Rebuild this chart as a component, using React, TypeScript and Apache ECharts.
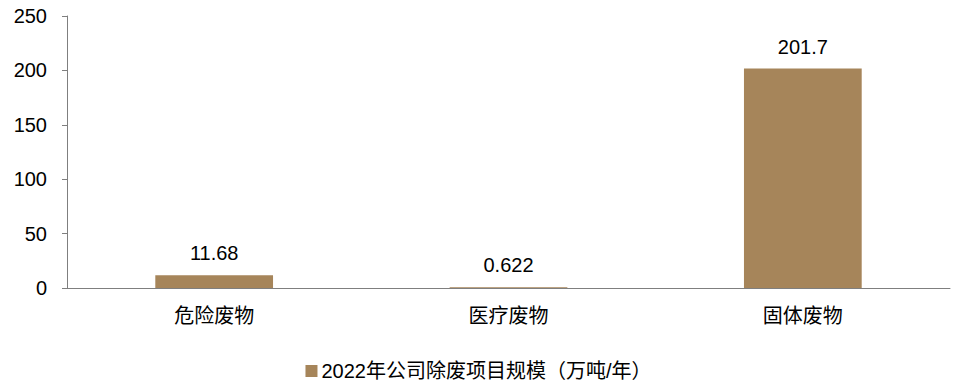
import React, { useEffect, useRef } from "react";
import * as echarts from "echarts";

const categories = ["危险废物", "医疗废物", "固体废物"];
const values = [11.68, 0.622, 201.7];
const valueLabels = ["11.68", "0.622", "201.7"];
const seriesName = "2022年公司除废项目规模（万吨/年）";
const yTicks = { min: 0, max: 250, interval: 50 };

export default function App() {
  const ref = useRef<HTMLDivElement>(null);

  useEffect(() => {
    if (!ref.current) return;
    const chart = echarts.init(ref.current, undefined, { renderer: "svg" });
    const axisColor = "#7f7f7f";
    const latin = "'Liberation Sans', Arial, 'Noto Sans CJK SC', sans-serif";
    chart.setOption({
      animation: false,
      grid: { left: 67, right: 7, top: 16, bottom: 93 },
      legend: {
        bottom: 0,
        padding: 0,
        left: "center",
        itemWidth: 12,
        itemHeight: 12,
        itemGap: 4,
        icon: "rect",
        textStyle: { color: "#000", fontSize: 20, fontFamily: latin, padding: [0, 0, 0, -1] },
        data: [seriesName],
      },
      xAxis: {
        type: "category",
        data: categories,
        axisLine: { lineStyle: { color: axisColor, width: 1 } },
        axisTick: { inside: true, length: 5, lineStyle: { color: axisColor } },
        axisLabel: {
          color: "#000",
          fontSize: 20,
          margin: 16,
          fontFamily: "'Noto Sans CJK SC', sans-serif",
        },
      },
      yAxis: {
        type: "value",
        min: yTicks.min,
        max: yTicks.max,
        interval: yTicks.interval,
        splitLine: { show: false },
        axisLine: { show: true, lineStyle: { color: axisColor, width: 1 } },
        axisTick: { show: true, length: 5, lineStyle: { color: axisColor } },
        axisLabel: { color: "#000", fontSize: 20, margin: 20, fontFamily: latin },
      },
      series: [
        {
          name: seriesName,
          type: "bar",
          data: values,
          barWidth: "40%",
          itemStyle: { color: "#A6855A" },
          label: {
            show: true,
            position: "top",
            distance: 12,
            color: "#000",
            fontSize: 20,
            fontFamily: latin,
            formatter: (p: any) => valueLabels[p.dataIndex],
          },
        },
      ],
    });
    return () => chart.dispose();
  }, []);

  return (
    <div
      ref={ref}
      style={{ position: "absolute", left: 0, top: 0, width: 957, height: 381 }}
    />
  );
}
